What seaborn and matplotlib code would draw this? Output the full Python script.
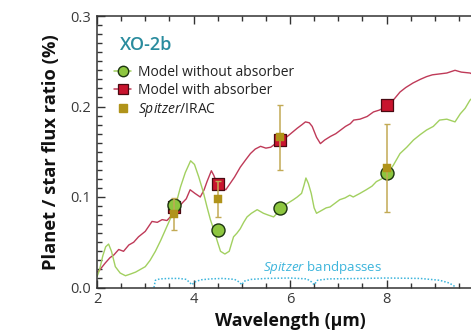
import matplotlib
matplotlib.use("Agg")
import matplotlib.pyplot as plt
from matplotlib.lines import Line2D
from matplotlib.ticker import MultipleLocator
import seaborn as sns
import pandas as pd

# ---------------- data ----------------
red_x = [2.0, 2.05, 2.17, 2.27, 2.35, 2.45, 2.55, 2.66, 2.76, 2.86, 3.0, 3.14, 3.25, 3.35, 3.45, 3.52,
         3.6, 3.68, 3.76, 3.85, 3.93, 4.03, 4.14, 4.22, 4.28, 4.37, 4.42, 4.47, 4.52, 4.58, 4.67, 4.76,
         4.85, 4.97, 5.08, 5.18, 5.28, 5.39, 5.5, 5.6, 5.7, 5.8, 5.9, 5.97, 6.06, 6.15, 6.25, 6.32,
         6.4, 6.46, 6.55, 6.63, 6.72, 6.84, 6.95, 7.05, 7.15, 7.25, 7.32, 7.45, 7.6, 7.73, 7.85, 8.0,
         8.14, 8.28, 8.4, 8.55, 8.7, 8.83, 8.95, 9.1, 9.25, 9.42, 9.55, 9.73, 9.9, 10.0]
red_y = [0.017, 0.019, 0.027, 0.033, 0.036, 0.042, 0.040, 0.047, 0.050, 0.056, 0.062, 0.073, 0.072, 0.075, 0.074, 0.078,
         0.085, 0.088, 0.093, 0.098, 0.108, 0.104, 0.100, 0.108, 0.117, 0.129, 0.124, 0.117, 0.114, 0.111, 0.108, 0.115,
         0.122, 0.133, 0.141, 0.148, 0.153, 0.156, 0.154, 0.155, 0.159, 0.161, 0.165, 0.168, 0.172, 0.176, 0.180, 0.183,
         0.182, 0.178, 0.166, 0.159, 0.163, 0.167, 0.170, 0.174, 0.178, 0.181, 0.185, 0.186, 0.189, 0.194, 0.196, 0.200,
         0.207, 0.216, 0.221, 0.226, 0.230, 0.233, 0.235, 0.236, 0.237, 0.240, 0.238, 0.237, 0.233, 0.230]

green_x = [2.0, 2.05, 2.12, 2.18, 2.24, 2.3, 2.38, 2.48, 2.59, 2.7, 2.8, 2.9, 3.0, 3.1, 3.21, 3.32, 3.42,
           3.52, 3.59, 3.66, 3.73, 3.83, 3.94, 4.02, 4.11, 4.2, 4.28, 4.35, 4.42, 4.5, 4.56, 4.65, 4.74,
           4.83, 4.9, 4.97, 5.04, 5.11, 5.2, 5.32, 5.45, 5.55, 5.66, 5.75, 5.83, 5.95, 6.07, 6.15, 6.24,
           6.29, 6.33, 6.38, 6.44, 6.5, 6.55, 6.65, 6.75, 6.83, 6.93, 7.03, 7.14, 7.24, 7.31, 7.45, 7.58,
           7.7, 7.79, 7.9, 8.0, 8.14, 8.28, 8.42, 8.56, 8.7, 8.83, 8.97, 9.1, 9.25, 9.42, 9.53, 9.63,
           9.73, 9.85, 10.0]
green_y = [0.012, 0.019, 0.035, 0.045, 0.048, 0.040, 0.023, 0.016, 0.013, 0.015, 0.017, 0.020, 0.023, 0.030, 0.040, 0.052, 0.064,
           0.076, 0.084, 0.097, 0.111, 0.127, 0.140, 0.136, 0.122, 0.106, 0.089, 0.075, 0.064, 0.050, 0.040, 0.037, 0.040,
           0.056, 0.060, 0.065, 0.072, 0.078, 0.082, 0.086, 0.082, 0.080, 0.078, 0.083, 0.089, 0.093, 0.097, 0.100, 0.104,
           0.113, 0.121, 0.115, 0.104, 0.088, 0.082, 0.085, 0.088, 0.089, 0.093, 0.097, 0.099, 0.102, 0.100, 0.104, 0.108,
           0.112, 0.117, 0.120, 0.124, 0.135, 0.148, 0.155, 0.163, 0.169, 0.174, 0.178, 0.185, 0.186, 0.183, 0.192, 0.198,
           0.207, 0.213, 0.220]

band_wavelength = [3.6, 4.5, 5.8, 8.0]
model_with_absorber = [0.0886, 0.114, 0.163, 0.2016]
model_without_absorber = [0.091, 0.064, 0.088, 0.127]
irac_flux = [0.081, 0.098, 0.166, 0.132]
irac_err = [0.018, 0.020, 0.036, 0.049]

bp_x = [3.18, 3.21, 3.3, 3.5, 3.7, 3.85, 3.93, 3.97, 4.02, 4.15, 4.35, 4.6, 4.85, 4.95, 5.0, 5.05,
        5.2, 5.5, 6.0, 6.35, 6.45, 6.5, 6.57, 6.8, 7.5, 8.0, 8.7, 9.1, 9.3, 9.42]
bp_y = [0.0, 0.008, 0.0095, 0.010, 0.010, 0.009, 0.005, 0.003, 0.006, 0.0085, 0.0095, 0.010, 0.009, 0.006, 0.003, 0.007,
        0.009, 0.010, 0.0105, 0.0095, 0.006, 0.003, 0.008, 0.0095, 0.010, 0.0105, 0.010, 0.008, 0.005, 0.001]

x_ticks = [2, 4, 6, 8, 10]
x_tick_labels = ["2", "4", "6", "8", ""]
y_ticks = [0.0, 0.1, 0.2, 0.3]
y_tick_labels = ["0.0", "0.1", "0.2", "0.3"]

# ---------------- style ----------------
sns.set_theme(style="ticks")
plt.rcParams['font.family'] = ['Open Sans', 'DejaVu Sans']
plt.rcParams['mathtext.fontset'] = 'custom'
plt.rcParams['mathtext.rm'] = 'Open Sans'
plt.rcParams['mathtext.it'] = 'Open Sans:italic'

RED_LINE = "#bf3a58"
RED_FILL = "#c8142e"
RED_EDGE = "#4a0a12"
GREEN_LINE = "#a2d060"
GREEN_FILL = "#8dc63f"
GREEN_EDGE = "#1c3510"
GOLD = "#b0931a"
GOLD_ERR = "#c2aa55"
TEAL = "#2a8c9e"
CYAN = "#3db5dc"
AXC = "#333333"

fig = plt.figure(figsize=(4.71, 3.34), dpi=100)
ax = fig.add_axes([97 / 471, 46.5 / 334, 386 / 471, 271.5 / 334])

red_df = pd.DataFrame({"x": red_x, "y": red_y})
green_df = pd.DataFrame({"x": green_x, "y": green_y})
bp_df = pd.DataFrame({"x": bp_x, "y": bp_y})
pts = pd.DataFrame({"x": band_wavelength, "red": model_with_absorber,
                    "green": model_without_absorber, "irac": irac_flux, "err": irac_err})

sns.lineplot(data=red_df, x="x", y="y", ax=ax, color=RED_LINE, lw=1.0, sort=False, zorder=2)
sns.lineplot(data=green_df, x="x", y="y", ax=ax, color=GREEN_LINE, lw=1.0, sort=False, zorder=2)
sns.lineplot(data=bp_df, x="x", y="y", ax=ax, color=CYAN, lw=1.1, ls=(0, (1, 1.2)), sort=False, zorder=2)

sns.scatterplot(data=pts, x="x", y="red", ax=ax, marker="s", s=74, color=RED_FILL,
                edgecolor=RED_EDGE, linewidth=0.9, zorder=3)
sns.scatterplot(data=pts, x="x", y="green", ax=ax, marker="o", s=88, color=GREEN_FILL,
                edgecolor=GREEN_EDGE, linewidth=1.0, zorder=4)
ax.errorbar(pts["x"], pts["irac"], yerr=pts["err"], fmt="none", ecolor=GOLD_ERR,
            elinewidth=1.1, capsize=2.5, capthick=1.0, zorder=5)
sns.scatterplot(data=pts, x="x", y="irac", ax=ax, marker="s", s=32, color=GOLD,
                edgecolor=GOLD, linewidth=0.3, zorder=6)

ax.set_xlim(2, 10)
ax.set_ylim(0, 0.3)
ax.set_xticks(x_ticks)
ax.set_xticklabels(x_tick_labels)
ax.set_yticks(y_ticks)
ax.set_yticklabels(y_tick_labels)
ax.xaxis.set_minor_locator(MultipleLocator(0.5))
ax.yaxis.set_minor_locator(MultipleLocator(0.01))
ax.tick_params(which="both", direction="in", top=True, right=False, colors=AXC,
               labelcolor="#3a3a3a", labelsize=10.5, width=1.0)
ax.tick_params(which="major", length=6)
ax.tick_params(which="minor", length=3.5)
ax.tick_params(axis="x", pad=3)
ax.tick_params(axis="y", pad=4)
for side in ["left", "bottom", "top"]:
    ax.spines[side].set_color(AXC)
    ax.spines[side].set_linewidth(1.1)
ax.spines["right"].set_visible(False)

ax.set_xlabel("Wavelength (µm)", fontsize=12.8, fontweight="bold", color="#111111", labelpad=4)
ax.set_ylabel("Planet / star flux ratio (%)", fontsize=13.2, fontweight="bold", color="#111111", labelpad=8)

ax.text(0.06, 0.893, "XO-2b", transform=ax.transAxes, fontsize=13, fontweight="semibold",
        color=TEAL, va="center", ha="left")
ax.text(6.68, 0.0225, r"$\mathit{Spitzer}$ bandpasses", fontsize=9.6, color=CYAN,
        ha="center", va="center")

handles = [
    Line2D([], [], color=GREEN_LINE, lw=1.1, marker="o", markersize=7.5,
           markerfacecolor=GREEN_FILL, markeredgecolor=GREEN_EDGE, markeredgewidth=1.0),
    Line2D([], [], color=RED_LINE, lw=1.1, marker="s", markersize=7.2,
           markerfacecolor=RED_FILL, markeredgecolor=RED_EDGE, markeredgewidth=0.9),
    Line2D([], [], color="none", marker="s", markersize=5.5,
           markerfacecolor=GOLD, markeredgecolor=GOLD),
]
labels = ["Model without absorber", "Model with absorber", r"$\mathit{Spitzer}$/IRAC"]
leg = ax.legend(handles, labels, loc="upper left", bbox_to_anchor=(0.045, 0.82),
                frameon=False, fontsize=10, handlelength=1.2, handletextpad=0.5,
                labelspacing=0.22, borderpad=0, borderaxespad=0)
for t in leg.get_texts():
    t.set_color("#222222")

fig.savefig("out.png", dpi=100)
